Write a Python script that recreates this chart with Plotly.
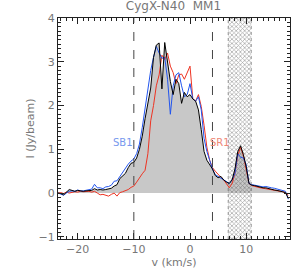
import numpy as np
import plotly.graph_objects as go

# velocity grid (km/s)
velocity = np.arange(-23.5, 17.51, 0.5)

black_I = [0.00, -0.01, -0.04, 0.02, 0.08, 0.06, 0.04, 0.06, 0.05, 0.04,
           0.05, 0.05, 0.06, 0.10, 0.07, 0.08, 0.07, 0.08, 0.09, 0.11,
           0.16, 0.19, 0.33, 0.38, 0.45, 0.58, 0.68, 0.70, 0.80, 1.00,
           1.30, 1.70, 2.05, 2.40, 3.10, 3.38, 3.43, 2.38, 3.44, 3.00,
           2.55, 2.25, 2.60, 2.50, 2.05, 2.30, 2.20, 2.25, 2.15, 2.10,
           1.90, 1.45, 0.95, 0.75, 0.65, 0.55, 0.40, 0.35, 0.38, 0.30,
           0.25, 0.22, 0.30, 0.55, 0.95, 1.08, 0.88, 0.60, 0.22, 0.18,
           0.17, 0.15, 0.14, 0.12, 0.12, 0.10, 0.08, 0.07, 0.06, 0.05,
           0.03, 0.01, -0.12]

blue_I = [0.00, -0.02, -0.05, 0.00, 0.04, 0.05, 0.04, 0.07, 0.05, 0.05,
          0.06, 0.07, 0.09, 0.20, 0.12, 0.12, 0.10, 0.14, 0.15, 0.18,
          0.27, 0.28, 0.38, 0.45, 0.55, 0.66, 0.73, 0.78, 0.90, 1.12,
          1.50, 1.95, 2.40, 2.80, 3.10, 3.35, 3.20, 3.08, 3.10, 2.60,
          1.80, 2.45, 2.70, 2.75, 2.45, 2.20, 2.25, 2.50, 2.15, 2.10,
          2.20, 1.90, 1.25, 0.95, 0.75, 0.55, 0.42, 0.38, 0.32, 0.30,
          0.25, 0.22, 0.30, 0.45, 0.90, 0.82, 0.80, 0.65, 0.22, 0.19,
          0.18, 0.17, 0.16, 0.14, 0.15, 0.13, 0.12, 0.11, 0.09, 0.08,
          0.06, 0.04, -0.14]

red_I = [0.00, 0.01, -0.01, 0.02, 0.00, 0.02, 0.03, 0.02, 0.04, 0.03,
         0.03, 0.04, 0.02, 0.04, 0.00, -0.04, -0.03, -0.05, -0.07, -0.03,
         0.00, -0.07, 0.01, 0.03, 0.05, 0.08, 0.13, 0.16, 0.25, 0.36,
         0.44, 0.52, 0.90, 1.65, 2.00, 2.45, 2.70, 3.15, 3.05, 3.20,
         2.90, 2.75, 2.50, 2.70, 2.72, 2.60, 2.75, 2.90, 2.15, 2.10,
         2.25, 1.98, 1.55, 1.05, 0.75, 0.58, 0.50, 0.42, 0.36, 0.30,
         0.20, 0.12, 0.22, 0.45, 0.85, 1.05, 0.85, 0.50, 0.22, 0.17,
         0.15, 0.14, 0.12, 0.11, 0.10, 0.09, 0.08, 0.06, 0.05, 0.04,
         0.03, 0.01, -0.05]

dashed_v = [-10, 4]
hatch_v = [6.8, 10.9]
x_range = [-23.5, 17.8]
y_range = [-1.05, 4.0]
labels = ["SB1", "SR1"]
label_v = [-11.9, 5.3]
label_I = [1.16, 1.16]
label_colors = ["#7799ee", "#ee8877"]

fig = go.Figure()

# grey filled area under black spectrum
fig.add_trace(go.Scatter(x=velocity, y=np.clip(black_I, 0, None), mode="lines",
                         line=dict(width=0), fill="tozeroy",
                         fillcolor="#c8c8c8", hoverinfo="skip", showlegend=False))

# hatched velocity interval
hx = [hatch_v[0], hatch_v[0], hatch_v[1], hatch_v[1], hatch_v[0]]
hy = [y_range[0], y_range[1], y_range[1], y_range[0], y_range[0]]
fig.add_trace(go.Scatter(x=hx, y=hy, mode="lines", line=dict(color="#555", width=0.6, dash="dot"),
                         fill="toself", fillcolor="rgba(0,0,0,0)",
                         fillpattern=dict(shape="x", size=3, solidity=0.4,
                                          fgcolor="#444", bgcolor="rgba(0,0,0,0)"),
                         showlegend=False, hoverinfo="skip"))

fig.add_trace(go.Scatter(x=velocity, y=red_I, mode="lines",
                         line=dict(color="#ee3322", width=1), showlegend=False))
fig.add_trace(go.Scatter(x=velocity, y=blue_I, mode="lines",
                         line=dict(color="#2255ee", width=1), showlegend=False))
fig.add_trace(go.Scatter(x=velocity, y=black_I, mode="lines",
                         line=dict(color="#000000", width=1), showlegend=False))

for v in dashed_v:
    fig.add_vline(x=v, line=dict(color="#444", width=1, dash="dash"))

for t, v, i, c in zip(labels, label_v, label_I, label_colors):
    fig.add_annotation(x=v, y=i, text=t, showarrow=False,
                       font=dict(color=c, size=10))

# y-axis title as annotation for precise placement
fig.add_annotation(x=0, y=0.5, xref="paper", yref="paper", xshift=-28,
                   text="I (Jy/beam)", textangle=-90, showarrow=False,
                   xanchor="center", yanchor="middle",
                   font=dict(color="#777", size=11))

axis_common = dict(showline=True, linecolor="#222", linewidth=1, mirror="allticks",
                   ticks="inside", ticklen=6, tickcolor="#222", showgrid=False,
                   zeroline=False, automargin=False,
                   tickfont=dict(color="#777", size=11))

fig.update_xaxes(range=x_range, dtick=10, tick0=0,
                 minor=dict(ticks="inside", dtick=1, ticklen=3, tickcolor="#222", showgrid=False),
                 title=dict(text="v (km/s)", font=dict(color="#777", size=11), standoff=2),
                 **axis_common)
fig.update_yaxes(range=y_range, dtick=1, tick0=0,
                 minor=dict(ticks="inside", dtick=0.1, ticklen=3, tickcolor="#222", showgrid=False),
                 **axis_common)

fig.update_layout(width=307, height=276,
                  margin=dict(l=58, r=17, t=18, b=37),
                  paper_bgcolor="white", plot_bgcolor="white",
                  font=dict(family="DejaVu Sans, sans-serif", color="#777"),
                  title=dict(text="CygX-N40  MM1", x=0.565, xanchor="center",
                             y=0.995, yanchor="top",
                             font=dict(size=12, color="#777")))

fig.write_html("out.html", config={"displayModeBar": False},
               post_script="document.body.style.margin='0';")
